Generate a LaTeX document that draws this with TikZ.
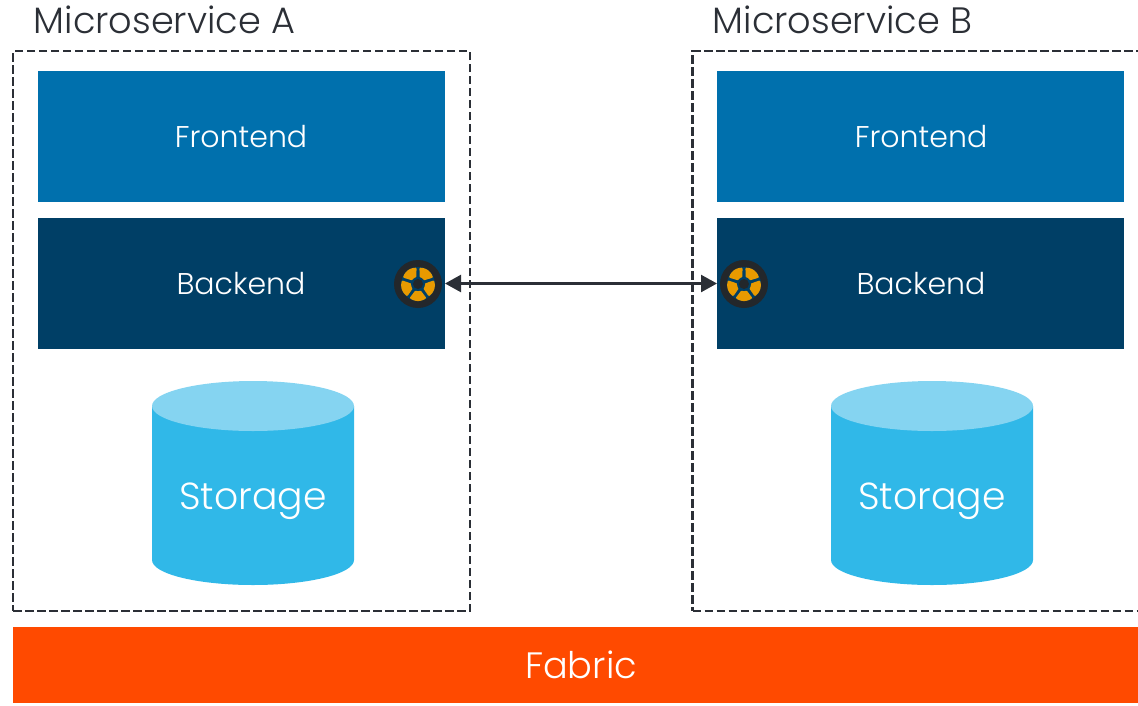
\documentclass[tikz,border=0pt]{standalone}
\usepackage{fontspec}
\setmainfont{Poppins Light}
\usetikzlibrary{arrows.meta,calc}
\definecolor{fe}{HTML}{0070AD}
\definecolor{be}{HTML}{003F66}
\definecolor{st}{HTML}{30B8E8}
\definecolor{sttop}{HTML}{85D4F1}
\definecolor{fab}{HTML}{FF4A00}
\definecolor{ink}{HTML}{2B2F36}
\definecolor{whl}{HTML}{23272B}
\definecolor{pet}{HTML}{E89A00}
\tikzset{
  x=1pt,y=-1pt,
  blockbox/.style={minimum width=407pt,minimum height=131pt,inner sep=0pt,outer sep=0pt},
  frontbox/.style={blockbox,fill=fe},
  backbox/.style={blockbox,fill=be},
  blocklabel/.style={text=white,font=\fontsize{30}{34}\selectfont,inner sep=0pt,anchor=base},
  servicebox/.style={draw=ink,line width=2.3pt,dash pattern=on 8.5pt off 3.5pt,inner sep=0pt,outer sep=0pt,anchor=north west},
  title/.style={text=ink,font=\fontsize{36.7}{42}\selectfont,inner sep=0pt,anchor=base west},
  storelabel/.style={text=white,font=\fontsize{37.7}{44}\selectfont,inner sep=0pt,anchor=base},
  wheelnode/.style={circle,fill=whl,minimum size=48pt,inner sep=0pt},
  link/.style={draw=ink,line width=2.4pt,{Triangle[length=16pt,width=17pt]}-{Triangle[length=16pt,width=17pt]}}
}
\newcommand{\wheelparts}[2]{%
  \fill[be] (#1,#2) circle[radius=17pt];
  \foreach \a in {54,126,198,270,342}{
    \fill[pet,rounded corners=1pt] ($(#1,#2)+(\a-22:6.8pt)$) -- ($(#1,#2)+(\a-31:16.5pt)$)
      -- ($(#1,#2)+(\a-15:17pt)$) -- ($(#1,#2)+(\a:17.2pt)$) -- ($(#1,#2)+(\a+15:17pt)$)
      -- ($(#1,#2)+(\a+31:16.5pt)$) -- ($(#1,#2)+(\a+22:6.8pt)$) -- cycle;
  }
  \fill[be] (#1,#2) circle[radius=7pt];
  \fill[whl] (#1,#2) circle[radius=5pt];
}
\newcommand{\storagecyl}[2]{%
  \fill[st] (#1,406) -- (#1,560) arc[start angle=180,end angle=360,x radius=101pt,y radius=25pt]
    -- (#2,406) -- cycle;
  \fill[sttop] ({(#1+#2)/2},406) circle[x radius=101pt,y radius=25pt];
}
\begin{document}
\begin{tikzpicture}
\useasboundingbox (0,0) rectangle (1138,705);
\clip (0,0) rectangle (1138,705);
\node[servicebox,minimum width=457pt,minimum height=560pt] (boxA) at (13,51) {};
\node[servicebox,minimum width=480pt,minimum height=560pt] (boxB) at (692.5,51) {};
\node[title] (titleA) at (33.5,33) {Microservice A};
\node[title] (titleB) at (712.5,33) {Microservice B};
\node[frontbox] (frontA) at (241.5,136.5) {};
\node[frontbox] (frontB) at (920.5,136.5) {};
\node[backbox] (backA) at (241.5,283.5) {};
\node[backbox] (backB) at (920.5,283.5) {};
\node[blocklabel] (frontAt) at (241,147) {Frontend};
\node[blocklabel] (frontBt) at (921,147) {Frontend};
\node[blocklabel] (backAt) at (241,294) {Backend};
\node[blocklabel] (backBt) at (921,294) {Backend};
\storagecyl{152}{354}
\storagecyl{831}{1033}
\node[storelabel] (storeA) at (253,509) {Storage};
\node[storelabel] (storeB) at (932,509) {Storage};
\node[wheelnode] (wheelA) at (418,284) {};
\node[wheelnode] (wheelB) at (744,284) {};
\wheelparts{418}{284}
\wheelparts{744}{284}
\draw[link] (backA.east) -- (backB.west);
\fill[fab] (13,627) rectangle (1138,703);
\node[text=white,font=\fontsize{36.7}{42}\selectfont,inner sep=0pt,anchor=base] (fabric) at (581,678) {Fabric};
\end{tikzpicture}
\end{document}
